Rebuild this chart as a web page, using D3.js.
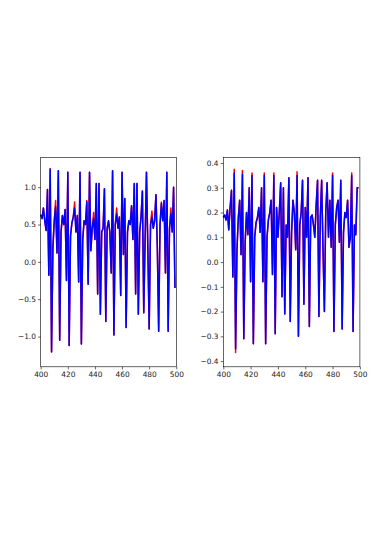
<!DOCTYPE html>
<html>
<head>
<meta charset="utf-8">
<script src="https://cdn.jsdelivr.net/npm/d3@7"></script>
<style>
  body { margin: 0; background: #fff; }
  text { font-family: "DejaVu Sans", sans-serif; }
</style>
</head>
<body>
<div id="chart"></div>
<script>
// x positions: steps 400..499
const steps = d3.range(400, 500);
const xTicks = [400, 420, 440, 460, 480, 500];

// left panel: actual (red) and predicted (blue)
const leftActual = [
  0.63, 0.58, 0.72, 0.55, 0.42, 0.97, -0.18, 1.25, -1.21, 0.20,
  0.55, 0.82, 0.12, 1.22, -1.05, 0.40, 0.62, 0.50, 0.70, -0.25,
  1.20, -1.12, 0.35, 0.52, 0.60, 0.80, 0.40, 0.62, -0.27, 1.20,
  -1.10, 0.30, 0.55, 0.50, 0.82, -0.30, 1.20, 0.15, 0.45, 0.66,
  0.30, 1.05, -0.43, 1.05, -0.70, 0.40, 0.45, 0.98, -0.80, 0.45,
  0.55, 0.40, -0.15, 1.22, -0.98, 0.50, 0.72, 0.45, 0.60, -0.45,
  1.20, 0.10, 0.85, -0.88, 0.40, 0.55, 0.50, 0.75, 0.30, 1.05,
  -0.43, 1.05, -0.70, 0.40, 0.60, 0.95, -0.68, 0.30, 1.20, 0.20,
  -0.90, 0.50, 0.68, 0.45, 0.55, 0.90, 0.20, -0.93, 0.50, 0.80,
  0.55, 0.82, -0.15, 1.20, -0.93, 0.45, 0.72, 0.40, 1.00, -0.35
];
const leftPred = [
  0.63, 0.58, 0.72, 0.55, 0.42, 0.97, -0.18, 1.24, -1.20, 0.20,
  0.55, 0.74, 0.12, 1.22, -1.05, 0.40, 0.62, 0.50, 0.70, -0.25,
  1.20, -1.12, 0.35, 0.52, 0.60, 0.72, 0.40, 0.62, -0.27, 1.20,
  -1.10, 0.30, 0.55, 0.50, 0.80, -0.30, 1.20, 0.15, 0.45, 0.58,
  0.30, 1.05, -0.43, 1.05, -0.70, 0.40, 0.45, 0.98, -0.80, 0.45,
  0.55, 0.40, -0.15, 1.22, -0.98, 0.50, 0.64, 0.45, 0.60, -0.45,
  1.20, 0.10, 0.85, -0.88, 0.40, 0.55, 0.50, 0.75, 0.30, 1.05,
  -0.43, 1.05, -0.70, 0.40, 0.60, 0.95, -0.68, 0.30, 1.20, 0.20,
  -0.90, 0.50, 0.60, 0.45, 0.55, 0.90, 0.20, -0.93, 0.50, 0.78,
  0.55, 0.82, -0.15, 1.20, -0.93, 0.45, 0.64, 0.40, 1.00, -0.35
];
const leftTicks = [-1.0, -0.5, 0.0, 0.5, 1.0];

// right panel
const rightActual = [
  0.18, 0.19, 0.17, 0.21, 0.13, 0.22, 0.29, -0.06, 0.375, -0.365,
  0.05, 0.18, 0.25, 0.03, 0.37, -0.31, 0.08, 0.20, 0.11, 0.30,
  -0.08, 0.36, -0.33, 0.10, 0.16, 0.18, 0.22, 0.12, 0.30, -0.08,
  0.36, -0.33, 0.10, 0.17, 0.20, 0.25, -0.05, 0.36, -0.29, 0.22,
  0.10, 0.20, 0.32, -0.14, 0.30, -0.21, 0.15, 0.10, 0.34, -0.24,
  0.12, 0.25, 0.20, 0.05, 0.365, -0.30, 0.15, 0.20, 0.33, -0.17,
  0.22, 0.10, 0.34, -0.26, 0.18, 0.19, 0.15, 0.10, 0.23, 0.33,
  -0.22, 0.18, 0.33, 0.05, -0.20, 0.20, 0.32, 0.10, 0.25, 0.06,
  0.36, -0.28, 0.15, 0.22, 0.25, 0.08, 0.33, -0.27, 0.12, 0.20,
  0.18, 0.25, 0.06, 0.10, 0.36, -0.28, 0.15, 0.11, 0.30, 0.30
];
const rightPred = [
  0.18, 0.19, 0.17, 0.21, 0.13, 0.22, 0.29, -0.06, 0.36, -0.35,
  0.05, 0.18, 0.25, 0.03, 0.355, -0.31, 0.08, 0.20, 0.11, 0.30,
  -0.08, 0.35, -0.33, 0.10, 0.16, 0.18, 0.22, 0.12, 0.30, -0.08,
  0.35, -0.33, 0.10, 0.17, 0.20, 0.25, -0.05, 0.35, -0.29, 0.22,
  0.10, 0.20, 0.32, -0.14, 0.30, -0.21, 0.15, 0.10, 0.34, -0.24,
  0.12, 0.25, 0.20, 0.05, 0.35, -0.30, 0.15, 0.20, 0.33, -0.17,
  0.22, 0.10, 0.34, -0.26, 0.18, 0.19, 0.15, 0.10, 0.23, 0.33,
  -0.22, 0.18, 0.33, 0.05, -0.20, 0.20, 0.32, 0.10, 0.25, 0.06,
  0.35, -0.28, 0.15, 0.22, 0.25, 0.08, 0.33, -0.27, 0.12, 0.20,
  0.18, 0.25, 0.06, 0.10, 0.35, -0.28, 0.15, 0.11, 0.30, 0.30
];
const rightTicks = [-0.4, -0.3, -0.2, -0.1, 0.0, 0.1, 0.2, 0.3, 0.4];

const W = 382, H = 541;
const svg = d3.select("#chart").append("svg")
  .attr("width", W)
  .attr("height", H);

svg.append("rect").attr("width", W).attr("height", H).attr("fill", "#fff");

// draw one subplot
function panel(box, actual, pred, yDomain, yTicks, yFmt) {
  const x = d3.scaleLinear().domain([400, 500]).range([box.x0, box.x1]);
  const y = d3.scaleLinear().domain(yDomain).range([box.y1, box.y0]);

  const line = d3.line()
    .x((d, i) => x(steps[i]))
    .y(d => y(d));

  const g = svg.append("g");

  g.append("path")
    .attr("d", line(actual))
    .attr("fill", "none")
    .attr("stroke", "#ff0000")
    .attr("stroke-width", 1.5)
    .attr("stroke-linejoin", "round");

  g.append("path")
    .attr("d", line(pred))
    .attr("fill", "none")
    .attr("stroke", "#0000ff")
    .attr("stroke-width", 1.5)
    .attr("stroke-linejoin", "round");

  const axB = g.append("g")
    .attr("transform", `translate(0,${box.y1})`)
    .call(d3.axisBottom(x).tickValues(xTicks).tickFormat(d3.format("d")).tickSize(2.6).tickPadding(2.2));
  const axL = g.append("g")
    .attr("transform", `translate(${box.x0},0)`)
    .call(d3.axisLeft(y).tickValues(yTicks).tickFormat(d => d3.format(yFmt)(d).replace("-", "\u2212")).tickSize(2.6).tickPadding(2.2));

  [axB, axL].forEach(a => {
    a.select(".domain").remove();
    a.selectAll("line").attr("stroke", "#000").attr("stroke-width", 0.6);
    a.selectAll("text").attr("font-size", 7.4).attr("fill", "#1a1a1a")
      .attr("font-family", "DejaVu Sans, sans-serif");
  });

  g.append("rect")
    .attr("x", box.x0).attr("y", box.y0)
    .attr("width", box.x1 - box.x0).attr("height", box.y1 - box.y0)
    .attr("fill", "none")
    .attr("stroke", "#000")
    .attr("stroke-width", 0.6);
}

panel({x0: 40.7, x1: 176.3, y0: 157.3, y1: 366.8}, leftActual, leftPred, [-1.405, 1.40], leftTicks, ".1f");
panel({x0: 223.3, x1: 359.9, y0: 157.3, y1: 366.8}, rightActual, rightPred, [-0.423, 0.423], rightTicks, ".1f");
</script>
</body>
</html>
